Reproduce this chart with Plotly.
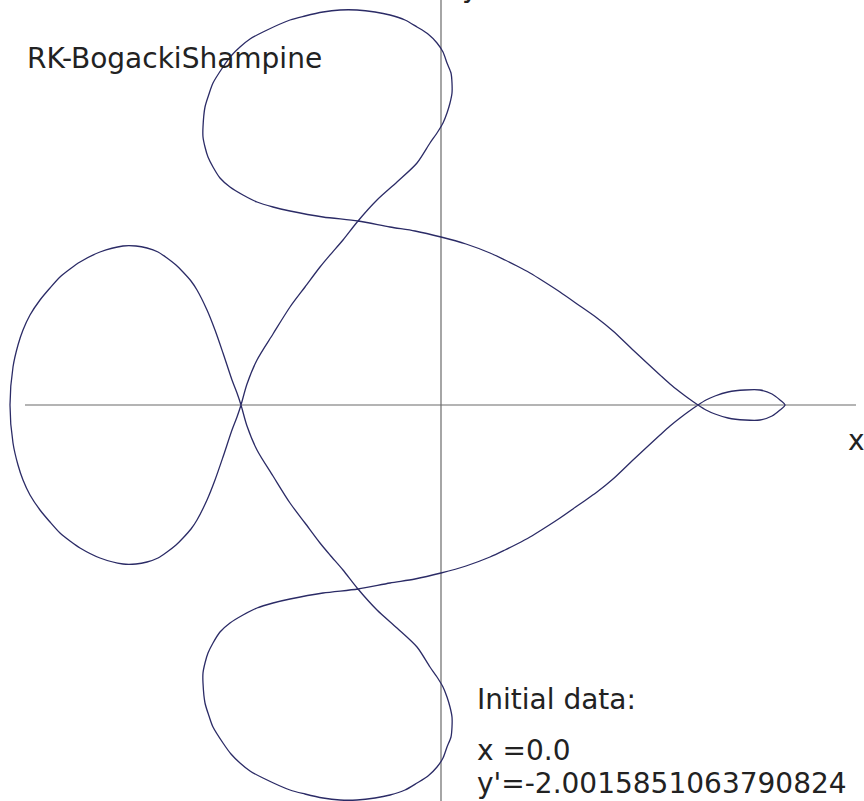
import plotly.graph_objects as go

# Trajectory traced by the RK-BogackiShampine integrator (x, y positions)
orbit_x = [
    # right crossing -> upper arc
    2.57, 2.47, 2.39, 2.29, 2.19, 2.06, 1.92, 1.72, 1.56, 1.39, 1.19, 1.02, 0.89, 0.76, 0.64, 0.49, 0.25, 0.00,
    -0.26, -0.51, -0.83, -1.18, -1.51,
    # upper lobe
    -1.68, -1.84, -1.98, -2.11, -2.21, -2.28, -2.33, -2.36, -2.38, -2.38, -2.36, -2.32, -2.28, -2.18, -2.10, -2.01,
    -1.91, -1.78, -1.51, -1.36, -1.18, -1.01, -0.84, -0.66, -0.51, -0.36, -0.24, -0.13, -0.04, 0.02, 0.06, 0.10,
    0.11, 0.11, 0.09, 0.06, 0.02, -0.04, -0.11, -0.24, -0.44, -0.64, -0.83, -0.98, -1.11, -1.21, -1.36, -1.51,
    -1.68, -1.84, -1.94, -2.00,
    # left lobe
    -2.04, -2.09, -2.18, -2.26, -2.34, -2.44, -2.50, -2.58, -2.65, -2.74, -2.83, -2.94, -3.05, -3.18, -3.41, -3.61,
    -3.71, -3.81, -3.91, -4.01, -4.11, -4.18, -4.23, -4.28, -4.31, -4.28, -4.23, -4.18, -4.11, -4.01, -3.91, -3.81,
    -3.71, -3.61, -3.41, -3.18, -3.05, -2.94, -2.83, -2.74, -2.65, -2.58, -2.50, -2.44, -2.34, -2.26, -2.18, -2.09,
    -2.04, -2.00,
    # lower lobe
    -1.94, -1.84, -1.68, -1.51, -1.36, -1.21, -1.11, -0.98, -0.83, -0.64, -0.44, -0.24, -0.11, -0.04, 0.02, 0.06,
    0.09, 0.11, 0.11, 0.10, 0.06, 0.02, -0.04, -0.13, -0.24, -0.36, -0.51, -0.66, -0.84, -1.01, -1.18, -1.36,
    -1.51, -1.78, -1.91, -2.01, -2.10, -2.18, -2.28, -2.32, -2.36, -2.38, -2.38, -2.36, -2.33, -2.28, -2.21, -2.11,
    -1.98, -1.84, -1.68, -1.51,
    # lower arc -> right crossing
    -1.18, -0.83, -0.51, -0.26, 0.00, 0.25, 0.49, 0.64, 0.76, 0.89, 1.02, 1.19, 1.39, 1.56, 1.72, 1.92, 2.06,
    2.19, 2.29, 2.39, 2.47, 2.57,
    # small loop on the right
    2.65, 2.74, 2.87, 3.04, 3.19, 3.31, 3.39, 3.44, 3.39, 3.31, 3.19, 3.04, 2.87, 2.74, 2.65, 2.57,
]
orbit_y = [
    0.00, 0.07, 0.13, 0.21, 0.30, 0.42, 0.55, 0.74, 0.87, 0.99, 1.13, 1.24, 1.32, 1.39, 1.45, 1.52, 1.61, 1.68,
    1.74, 1.78, 1.84, 1.88, 1.94,
    1.98, 2.03, 2.10, 2.18, 2.27, 2.38, 2.48, 2.58, 2.68, 2.78, 2.98, 3.11, 3.22, 3.38, 3.49, 3.58,
    3.66, 3.73, 3.85, 3.89, 3.93, 3.95, 3.95, 3.93, 3.90, 3.85, 3.78, 3.71, 3.62, 3.53, 3.42, 3.32,
    3.22, 3.12, 3.02, 2.92, 2.82, 2.72, 2.62, 2.42, 2.23, 2.05, 1.84, 1.65, 1.50, 1.38, 1.18, 0.98,
    0.71, 0.45, 0.21, 0.00,
    -0.12, -0.25, -0.52, -0.75, -0.95, -1.15, -1.24, -1.33, -1.40, -1.47, -1.53, -1.57, -1.59, -1.59, -1.53, -1.43,
    -1.36, -1.28, -1.17, -1.05, -0.90, -0.75, -0.60, -0.38, 0.00, 0.38, 0.60, 0.75, 0.90, 1.05, 1.17, 1.28,
    1.36, 1.43, 1.53, 1.59, 1.59, 1.57, 1.53, 1.47, 1.40, 1.33, 1.24, 1.15, 0.95, 0.75, 0.52, 0.25,
    0.12, 0.00,
    -0.21, -0.45, -0.71, -0.98, -1.18, -1.38, -1.50, -1.65, -1.84, -2.05, -2.23, -2.42, -2.62, -2.72, -2.82, -2.92,
    -3.02, -3.12, -3.22, -3.32, -3.42, -3.53, -3.62, -3.71, -3.78, -3.85, -3.90, -3.93, -3.95, -3.95, -3.93, -3.89,
    -3.85, -3.73, -3.66, -3.58, -3.49, -3.38, -3.22, -3.11, -2.98, -2.78, -2.68, -2.58, -2.48, -2.38, -2.27, -2.18,
    -2.10, -2.03, -1.98, -1.94,
    -1.88, -1.84, -1.78, -1.74, -1.68, -1.61, -1.52, -1.45, -1.39, -1.32, -1.24, -1.13, -0.99, -0.87, -0.74, -0.55, -0.42,
    -0.30, -0.21, -0.13, -0.07, 0.00,
    0.05, 0.09, 0.13, 0.15, 0.15, 0.11, 0.05, 0.00, -0.05, -0.11, -0.15, -0.15, -0.13, -0.09, -0.05, 0.00,
]

method_name = "RK-BogackiShampine"
initial_lines = ["Initial data:", "x =0.0", "y'=-2.0015851063790824"]

W, H = 864, 801
X_RANGE = [-4.41, 4.23]
Y_RANGE = [-3.96, 4.05]

fig = go.Figure()
fig.add_trace(go.Scatter(
    x=orbit_x, y=orbit_y, mode="lines",
    line=dict(color="#2b2b66", width=1.3, shape="spline", smoothing=0.8),
    hoverinfo="skip", showlegend=False,
))

axis_color = "#6a6a6a"
# coordinate axes through the origin
fig.add_shape(type="line", xref="x", yref="y", x0=-4.16, x1=4.15, y0=0, y1=0,
              line=dict(color=axis_color, width=1.2), layer="below")
fig.add_shape(type="line", xref="x", yref="paper", x0=0, x1=0, y0=0, y1=1,
              line=dict(color=axis_color, width=1.2), layer="below")

FONT = "DejaVu Sans"
TXT = "#222222"


def px(xp):
    return xp / W


def py(yp):
    return 1 - yp / H


ann = [
    dict(text=method_name, x=px(25), y=py(59), xanchor="left"),
    dict(text=initial_lines[0], x=px(475), y=py(699), xanchor="left"),
    dict(text=initial_lines[1], x=px(475), y=py(750), xanchor="left"),
    dict(text=initial_lines[2], x=px(475), y=py(783), xanchor="left"),
    dict(text="x", x=px(856), y=py(440), xanchor="center"),
    dict(text="y", x=px(470), y=py(-12), xanchor="center"),
]
for a in ann:
    fig.add_annotation(
        text=a["text"], x=a["x"], y=a["y"], xref="paper", yref="paper",
        xanchor=a["xanchor"], yanchor="middle", showarrow=False,
        font=dict(family=FONT, size=28, color=TXT),
    )

fig.update_layout(
    width=W, height=H,
    margin=dict(l=0, r=0, t=0, b=0),
    paper_bgcolor="white", plot_bgcolor="white",
    xaxis=dict(range=X_RANGE, visible=False, fixedrange=True),
    yaxis=dict(range=Y_RANGE, visible=False, fixedrange=True),
    showlegend=False,
)

fig.write_html("out.html")
